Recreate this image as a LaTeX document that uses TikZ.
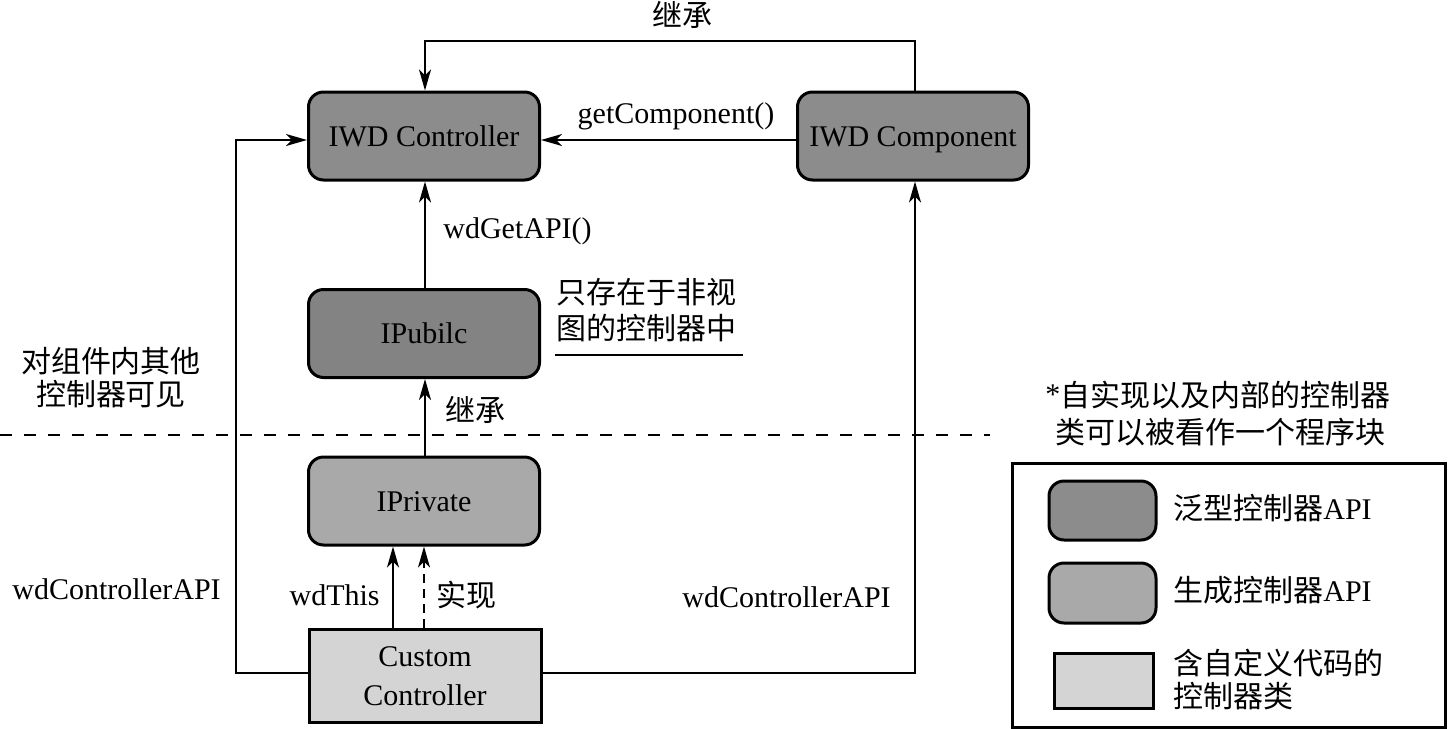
\documentclass[tikz,border=0pt]{standalone}
\usepackage{fontspec}
\setmainfont{Liberation Serif}
\newfontfamily\cjk{Noto Sans CJK SC}
\usetikzlibrary{arrows.meta}
\definecolor{gdark}{HTML}{8C8C8C}
\definecolor{gpub}{HTML}{838383}
\definecolor{gmid}{HTML}{A9A9A9}
\definecolor{glight}{HTML}{D4D4D4}
\begin{document}
\begin{tikzpicture}[x=0.5pt,y=-0.5pt,
  every node/.style={font=\fontsize{15}{18}\selectfont, inner sep=0pt},
  rbox/.style={draw, line width=1.5pt, rounded corners=7.5pt, minimum width=115.5pt, minimum height=44pt, text height=1.1em, text depth=0.1em},
  sbox/.style={draw, line width=1.5pt, minimum width=116pt, minimum height=46.5pt, fill=glight, align=center},
  conn/.style={line width=1pt},
  arr/.style={line width=1pt, -{Stealth[length=10.5pt,width=6pt,inset=3pt]}},
  lbl/.style={anchor=west},
  cjklbl/.style={font=\fontsize{15}{18}\selectfont\cjk}
]
\fill[white] (0,0) rectangle (1448,729);
\useasboundingbox (0,0) rectangle (1448,729);

% main boxes
\node[rbox, fill=gdark] (ctrl) at (424,136) {IWD Controller};
\node[rbox, fill=gdark] (comp) at (913,136) {IWD Component};
\node[rbox, fill=gpub] (pub) at (424,333.5) {IPubilc};
\node[rbox, fill=gmid] (priv) at (424,501) {IPrivate};
\node[sbox] (cust) at (425,676) {Custom\\[1.5pt]Controller};

% routing coordinates
\coordinate (tl) at (425,41);
\coordinate (tr) at (915,41);
\coordinate (lt) at (236,140);
\coordinate (lc) at (236,673);
\coordinate (rc) at (915,673);
\coordinate (mx) at (425,0);
\coordinate (wx) at (393,0);
\coordinate (ix) at (424,0);
\coordinate (dl) at (0,435);
\coordinate (dr) at (990,435);

% connectors
\draw[arr] (comp.north -| tr) -- (tr) -- (tl) -- (tl |- ctrl.north);
\draw[arr] (comp.west |- lt) -- (ctrl.east |- lt);
\draw[arr] (pub.north -| mx) -- (ctrl.south -| mx);
\draw[arr] (priv.north -| mx) -- (pub.south -| mx);
\draw[arr] (cust.north -| wx) -- (priv.south -| wx);
\draw[arr, dash pattern=on 4.5pt off 3pt] (cust.north -| ix) -- (priv.south -| ix);
\draw[arr] (cust.west |- lc) -- (lc) -- (lt) -- (ctrl.west |- lt);
\draw[arr] (cust.east |- rc) -- (rc) -- (rc |- comp.south);

% dashed boundary
\draw[line width=1pt, dash pattern=on 6pt off 6pt] (dl) -- (dr);

% labels
\node[cjklbl] (inh1) at (682,15) {继承};
\node (getc) at (676,116) {getComponent()};
\node[lbl] (getapi) at (443,231) {wdGetAPI()};
\node[lbl, cjklbl, align=left] (only) at (556,310) {只存在于非视\\图的控制器中};
\coordinate (ul) at (555,355);
\coordinate (ur) at (743,355);
\draw[line width=1.2pt] (ul) -- (ur);
\node[cjklbl, align=center, font=\fontsize{15}{16.5}\selectfont\cjk] (vis) at (111,378) {对组件内其他\\控制器可见};
\node[lbl, cjklbl] (inh2) at (445,410) {继承};
\node[lbl] (wdc1) at (12,589) {wdControllerAPI};
\node[anchor=east] (wdthis) at (380,595) {wdThis};
\node[lbl, cjklbl] (impl) at (436,595) {实现};
\node[lbl] (wdc2) at (682,597) {wdControllerAPI};

% note
\node[lbl] (note1) at (1045,395) {\raisebox{1pt}{*}\cjk 自实现以及内部的控制器};
\node[lbl, cjklbl] (note2) at (1055,432) {类可以被看作一个程序块};

% legend
\coordinate (lg1) at (1012,463);
\coordinate (lg2) at (1445,727);
\draw[line width=1.5pt] (lg1) rectangle (lg2);
\node[rbox, fill=gdark, minimum width=53.5pt, minimum height=29.5pt] (lgA) at (1102.5,510.5) {};
\node[rbox, fill=gmid, minimum width=53.5pt, minimum height=30pt] (lgB) at (1102.5,593) {};
\node[draw, line width=1.5pt, fill=glight, minimum width=49.5pt, minimum height=27.5pt] (lgC) at (1103.5,680.5) {};
\node[lbl] (lgAt) at (1173,508) {\cjk 泛型控制器\rmfamily API};
\node[lbl] (lgBt) at (1173,590) {\cjk 生成控制器\rmfamily API};
\node[lbl, cjklbl, align=left, font=\fontsize{15}{16.5}\selectfont\cjk] (lgCt) at (1173,679) {含自定义代码的\\控制器类};
\end{tikzpicture}
\end{document}
